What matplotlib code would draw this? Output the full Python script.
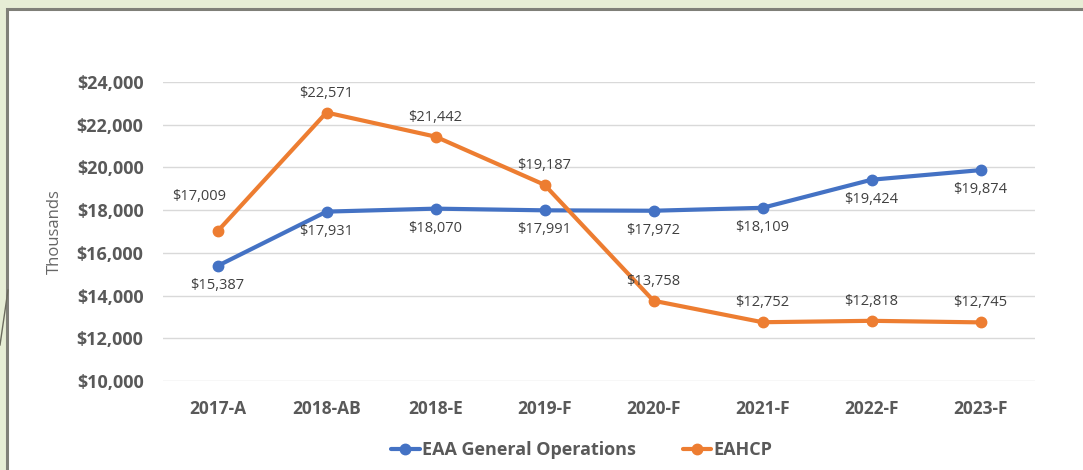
import matplotlib.pyplot as plt
from matplotlib.patches import Rectangle
from matplotlib.lines import Line2D

categories = ["2017-A", "2018-AB", "2018-E", "2019-F", "2020-F", "2021-F", "2022-F", "2023-F"]
eaa_ops = [15387, 17931, 18070, 17991, 17972, 18109, 19424, 19874]
eahcp = [17009, 22571, 21442, 19187, 13758, 12752, 12818, 12745]
y_ticks = [10000, 12000, 14000, 16000, 18000, 20000, 22000, 24000]

BLUE = '#4472C4'
ORANGE = '#ED7D31'
GRID = '#D9D9D9'
TICK = '#595959'
LABEL = '#404040'

plt.rcParams['font.family'] = ['Open Sans', 'DejaVu Sans']

fig = plt.figure(figsize=(10.83, 4.70), dpi=100)
fig.patch.set_facecolor('#E6EDD5')

# white slide panel with dark border
panel = Rectangle((7 / 1083, -0.05), 1.1, 1 - 9 / 470 + 0.05, transform=fig.transFigure,
                  facecolor='white', edgecolor='#7F7F78', linewidth=2.2, zorder=0)
fig.add_artist(panel)
fig.add_artist(Line2D([0.0, 8 / 1083], [1 - 345 / 470, 1 - 290 / 470], transform=fig.transFigure,
                      color='#6B6B5E', lw=1.0))

ax = fig.add_axes([163 / 1083, 1 - 381 / 470, 872 / 1083, 299 / 470])
ax.set_facecolor('none')
x = list(range(len(categories)))

ax.plot(x, eaa_ops, color=BLUE, lw=3.0, marker='o', markersize=7.5, zorder=3,
        label='EAA General Operations', solid_capstyle='round')
ax.plot(x, eahcp, color=ORANGE, lw=3.0, marker='o', markersize=7.5, zorder=4,
        label='EAHCP', solid_capstyle='round')

ax.set_xlim(-0.5, len(categories) - 0.5)
ax.set_ylim(10000, 24000)
ax.set_yticks(y_ticks)
ax.set_yticklabels([f"${v:,.0f}" for v in y_ticks], fontsize=13, fontweight='bold', color=TICK)
ax.set_xticks(x)
ax.set_xticklabels(categories, fontsize=12.5, fontweight='bold', color=TICK)
ax.tick_params(length=0)
ax.tick_params(axis='y', pad=14)
ax.tick_params(axis='x', pad=14)
ax.grid(axis='y', color=GRID, lw=1.0)
ax.set_axisbelow(True)
for s in ax.spines.values():
    s.set_visible(False)

ax.set_ylabel('Thousands', fontsize=12, color='#666666', labelpad=10)

# data labels
for i, v in enumerate(eaa_ops):
    ax.annotate(f"${v:,}", (i, v), xytext=(0, -14), textcoords='offset points',
                ha='center', va='center', fontsize=10.5, color=LABEL, zorder=5)
for i, v in enumerate(eahcp):
    off = (-13, 25) if i == 0 else (0, 14)
    ax.annotate(f"${v:,}", (i, v), xytext=off, textcoords='offset points',
                ha='center', va='center', fontsize=10.5, color=LABEL, zorder=5)

leg = fig.legend(loc='center', bbox_to_anchor=(0.537, 1 - 450 / 470), ncol=2, frameon=False,
                 handlelength=1.6, columnspacing=2.6, handletextpad=0.1,
                 prop={'weight': 'bold', 'size': 13})
for t in leg.get_texts():
    t.set_color(TICK)

fig.savefig('out.png', dpi=100, facecolor=fig.get_facecolor())
